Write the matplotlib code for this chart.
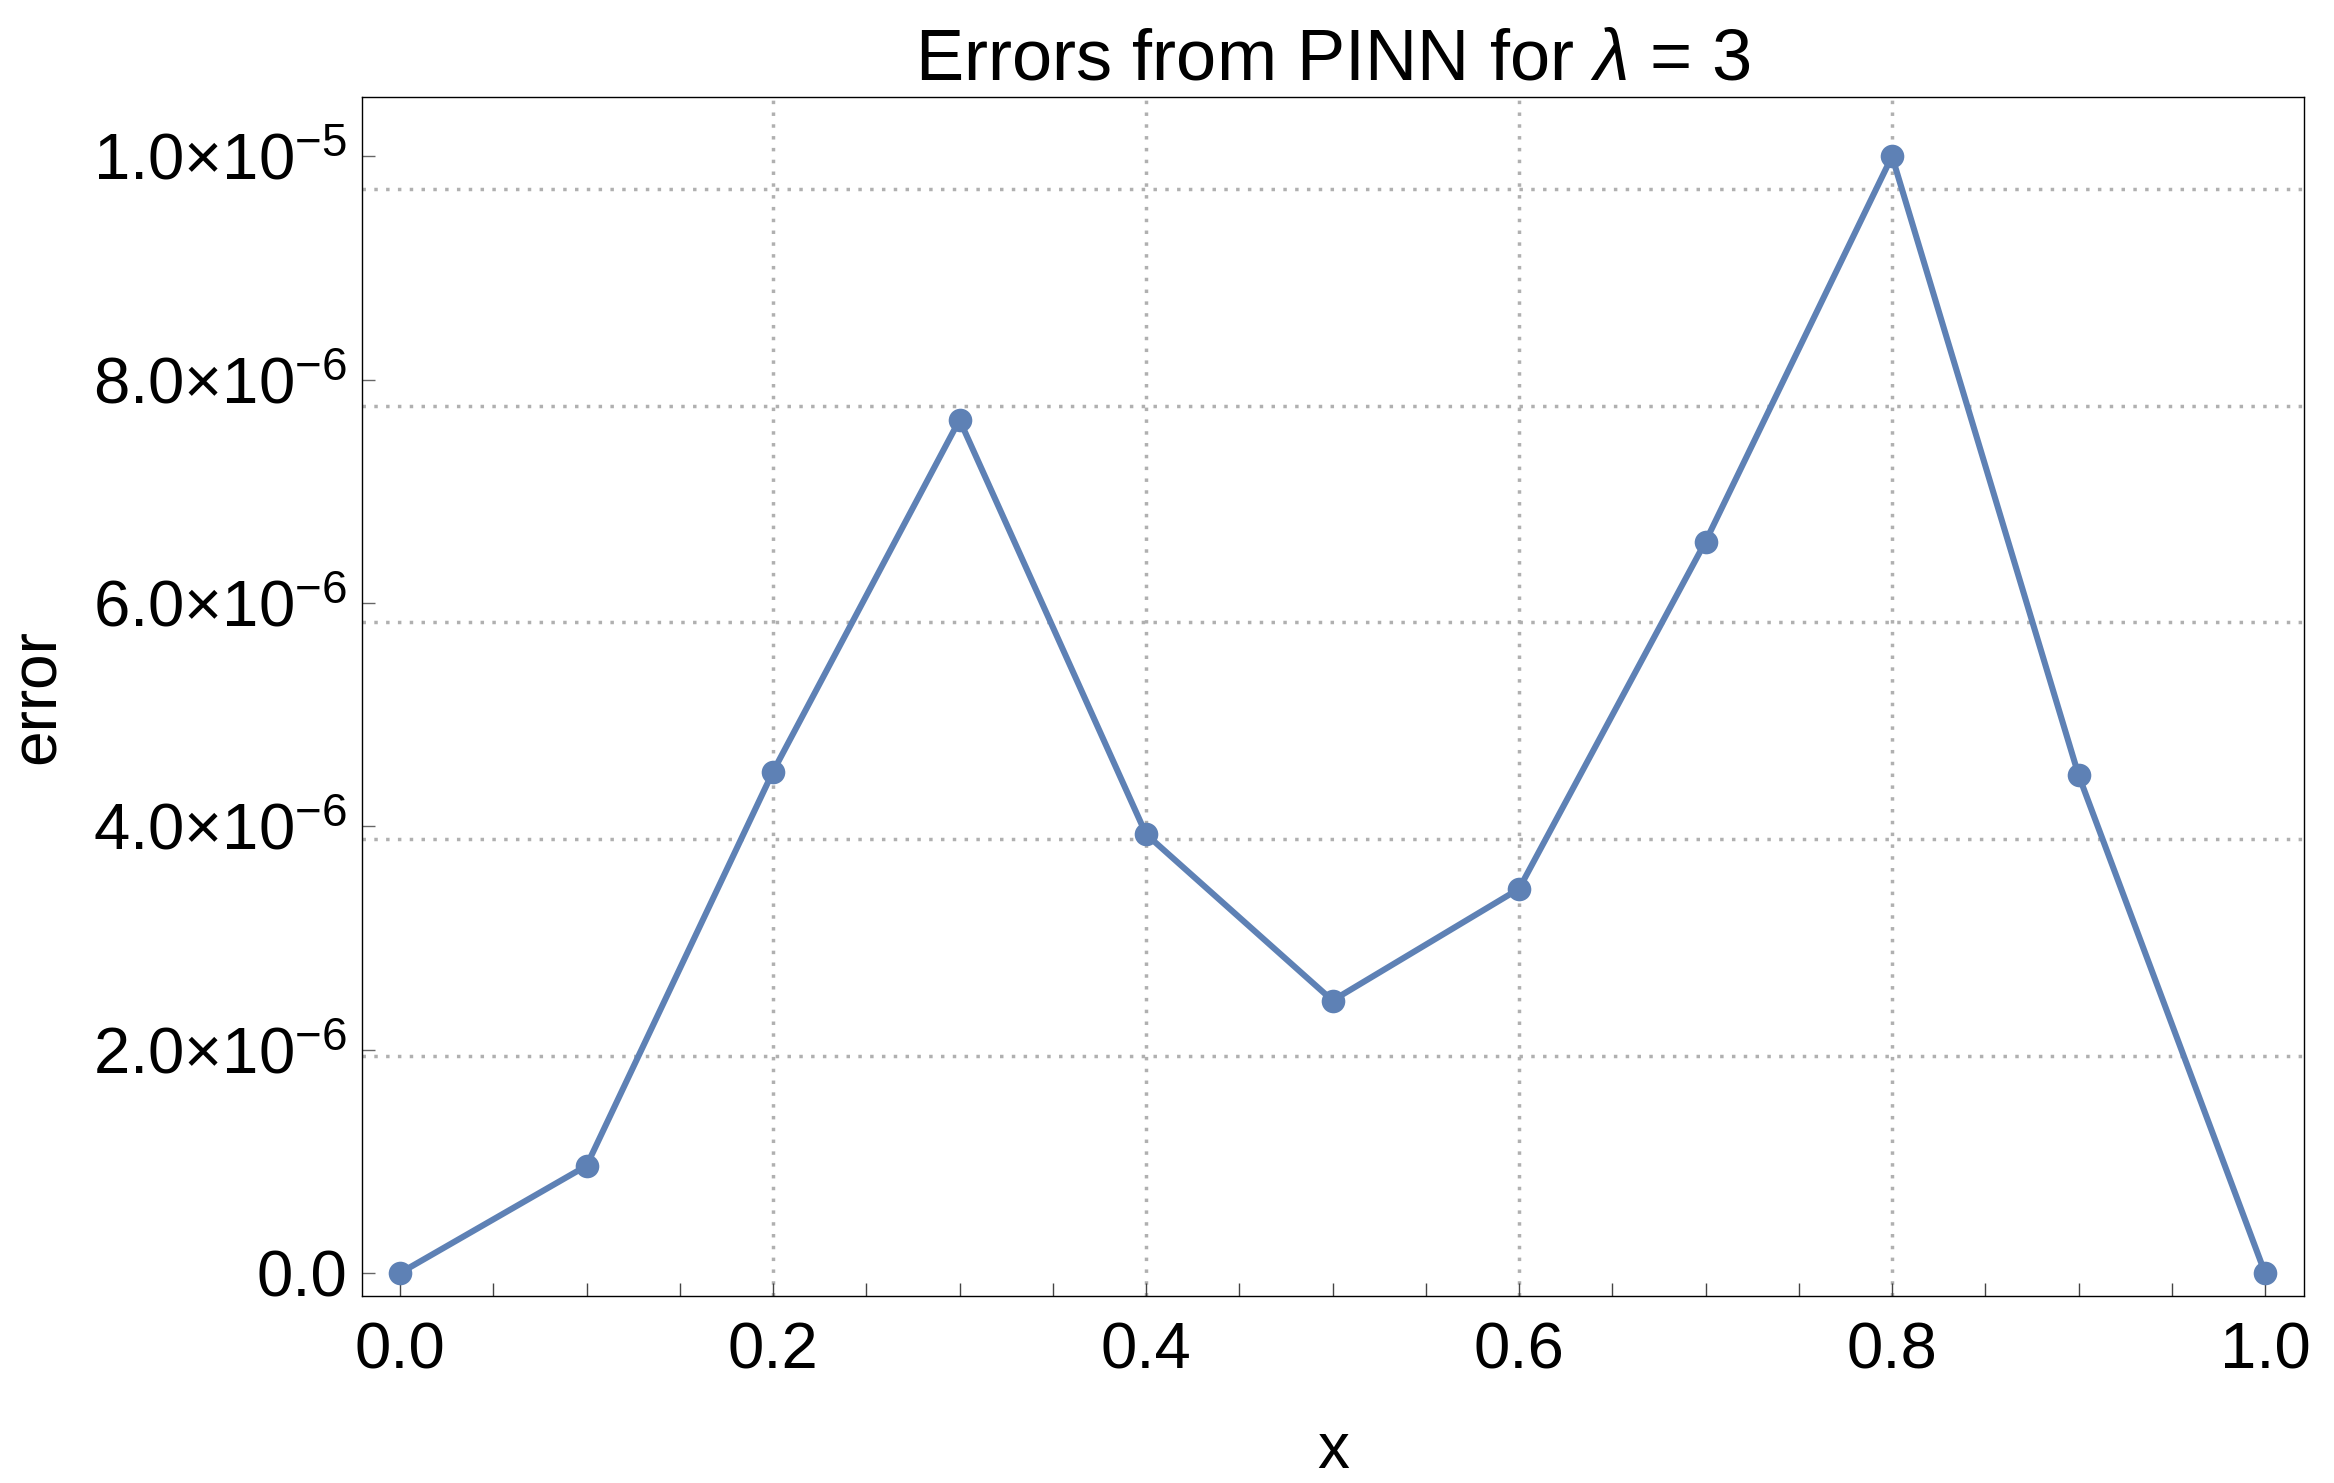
import numpy as np
import matplotlib
matplotlib.use("Agg")
import matplotlib.pyplot as plt
from matplotlib.ticker import FixedLocator, FixedFormatter

plt.rcParams['font.family'] = ['Liberation Sans', 'DejaVu Sans']
plt.rcParams['mathtext.fontset'] = 'custom'
plt.rcParams['mathtext.rm'] = 'Liberation Sans'
plt.rcParams['mathtext.it'] = 'Liberation Sans:italic'
plt.rcParams['mathtext.bf'] = 'Liberation Sans:bold'
plt.rcParams['mathtext.default'] = 'regular'

# ---- data ----
x_vals = [0.0, 0.1, 0.2, 0.3, 0.4, 0.5, 0.6, 0.7, 0.8, 0.9, 1.0]
errors = [0.0, 0.96e-6, 4.49e-6, 7.64e-6, 3.93e-6, 2.44e-6, 3.44e-6, 6.55e-6, 1.0e-5, 4.46e-6, 0.0]

x_major = [0.0, 0.2, 0.4, 0.6, 0.8, 1.0]
x_major_labels = ["0.0", "0.2", "0.4", "0.6", "0.8", "1.0"]
x_minor = [0.05, 0.1, 0.15, 0.25, 0.3, 0.35, 0.45, 0.5, 0.55, 0.65, 0.7, 0.75, 0.85, 0.9, 0.95]
y_ticks = [0.0, 2e-6, 4e-6, 6e-6, 8e-6, 1e-5]
y_tick_labels = ["0.0", r"$2.0{\times}10^{-6}$", r"$4.0{\times}10^{-6}$",
                 r"$6.0{\times}10^{-6}$", r"$8.0{\times}10^{-6}$", r"$1.0{\times}10^{-5}$"]
grid_x = [0.2, 0.4, 0.6, 0.8]
grid_y = [1.942e-6, 3.884e-6, 5.826e-6, 7.768e-6, 9.71e-6]

title = r"Errors from PINN for $\mathit{\lambda}$ = 3"
xlabel = "x"
ylabel = "error"

# ---- figure ----
W, H = 2334, 1483
fig = plt.figure(figsize=(W / 100, H / 100), dpi=100)
ax = fig.add_axes([362 / W, 1 - 1296 / H, (2304 - 362) / W, (1296 - 97) / H])

line_color = "#5E81B5"
grid_color = "#b0b0b0"

for gx in grid_x:
    ax.axvline(gx, color=grid_color, lw=2.5, linestyle=(0, (1, 2.4)), zorder=1)
for gy in grid_y:
    ax.axhline(gy, color=grid_color, lw=2.5, linestyle=(0, (1, 2.4)), zorder=1)

ax.plot(x_vals, errors, color=line_color, lw=4.4, marker="o", markersize=17,
        markeredgewidth=0, zorder=3, clip_on=False)

ax.set_xlim(-0.0204, 1.0209)
ax.set_ylim(-2.06e-7, 1.0531e-5)

ax.xaxis.set_major_locator(FixedLocator(x_major))
ax.xaxis.set_major_formatter(FixedFormatter(x_major_labels))
ax.xaxis.set_minor_locator(FixedLocator(x_minor))
ax.yaxis.set_major_locator(FixedLocator(y_ticks))
ax.yaxis.set_major_formatter(FixedFormatter(y_tick_labels))

ax.tick_params(axis="x", which="both", direction="in", length=9.4, width=1.0,
               color="#444444", top=False, labelsize=47, pad=18.5)
ax.tick_params(axis="y", which="major", direction="in", length=9.4, width=1.0,
               color="#666666", right=False, labelsize=47, pad=10.5)

for s in ax.spines.values():
    s.set_linewidth(1.0)
    s.set_color("black")

ax.set_xlabel(xlabel, fontsize=46)
ax.xaxis.label.set_va("baseline")
ax.xaxis.set_label_coords(0.5, (1296 - 1468) / (1296 - 97))

ax.set_ylabel(ylabel, fontsize=46)
ax.yaxis.label.set_va("baseline")
ax.yaxis.set_label_coords((55 - 362) / (2304 - 362), 0.5)

ax.text(0.5, (1296 - 80) / (1296 - 97), title, transform=ax.transAxes,
        ha="center", va="baseline", fontsize=52)

fig.savefig("out.png", dpi=100)
